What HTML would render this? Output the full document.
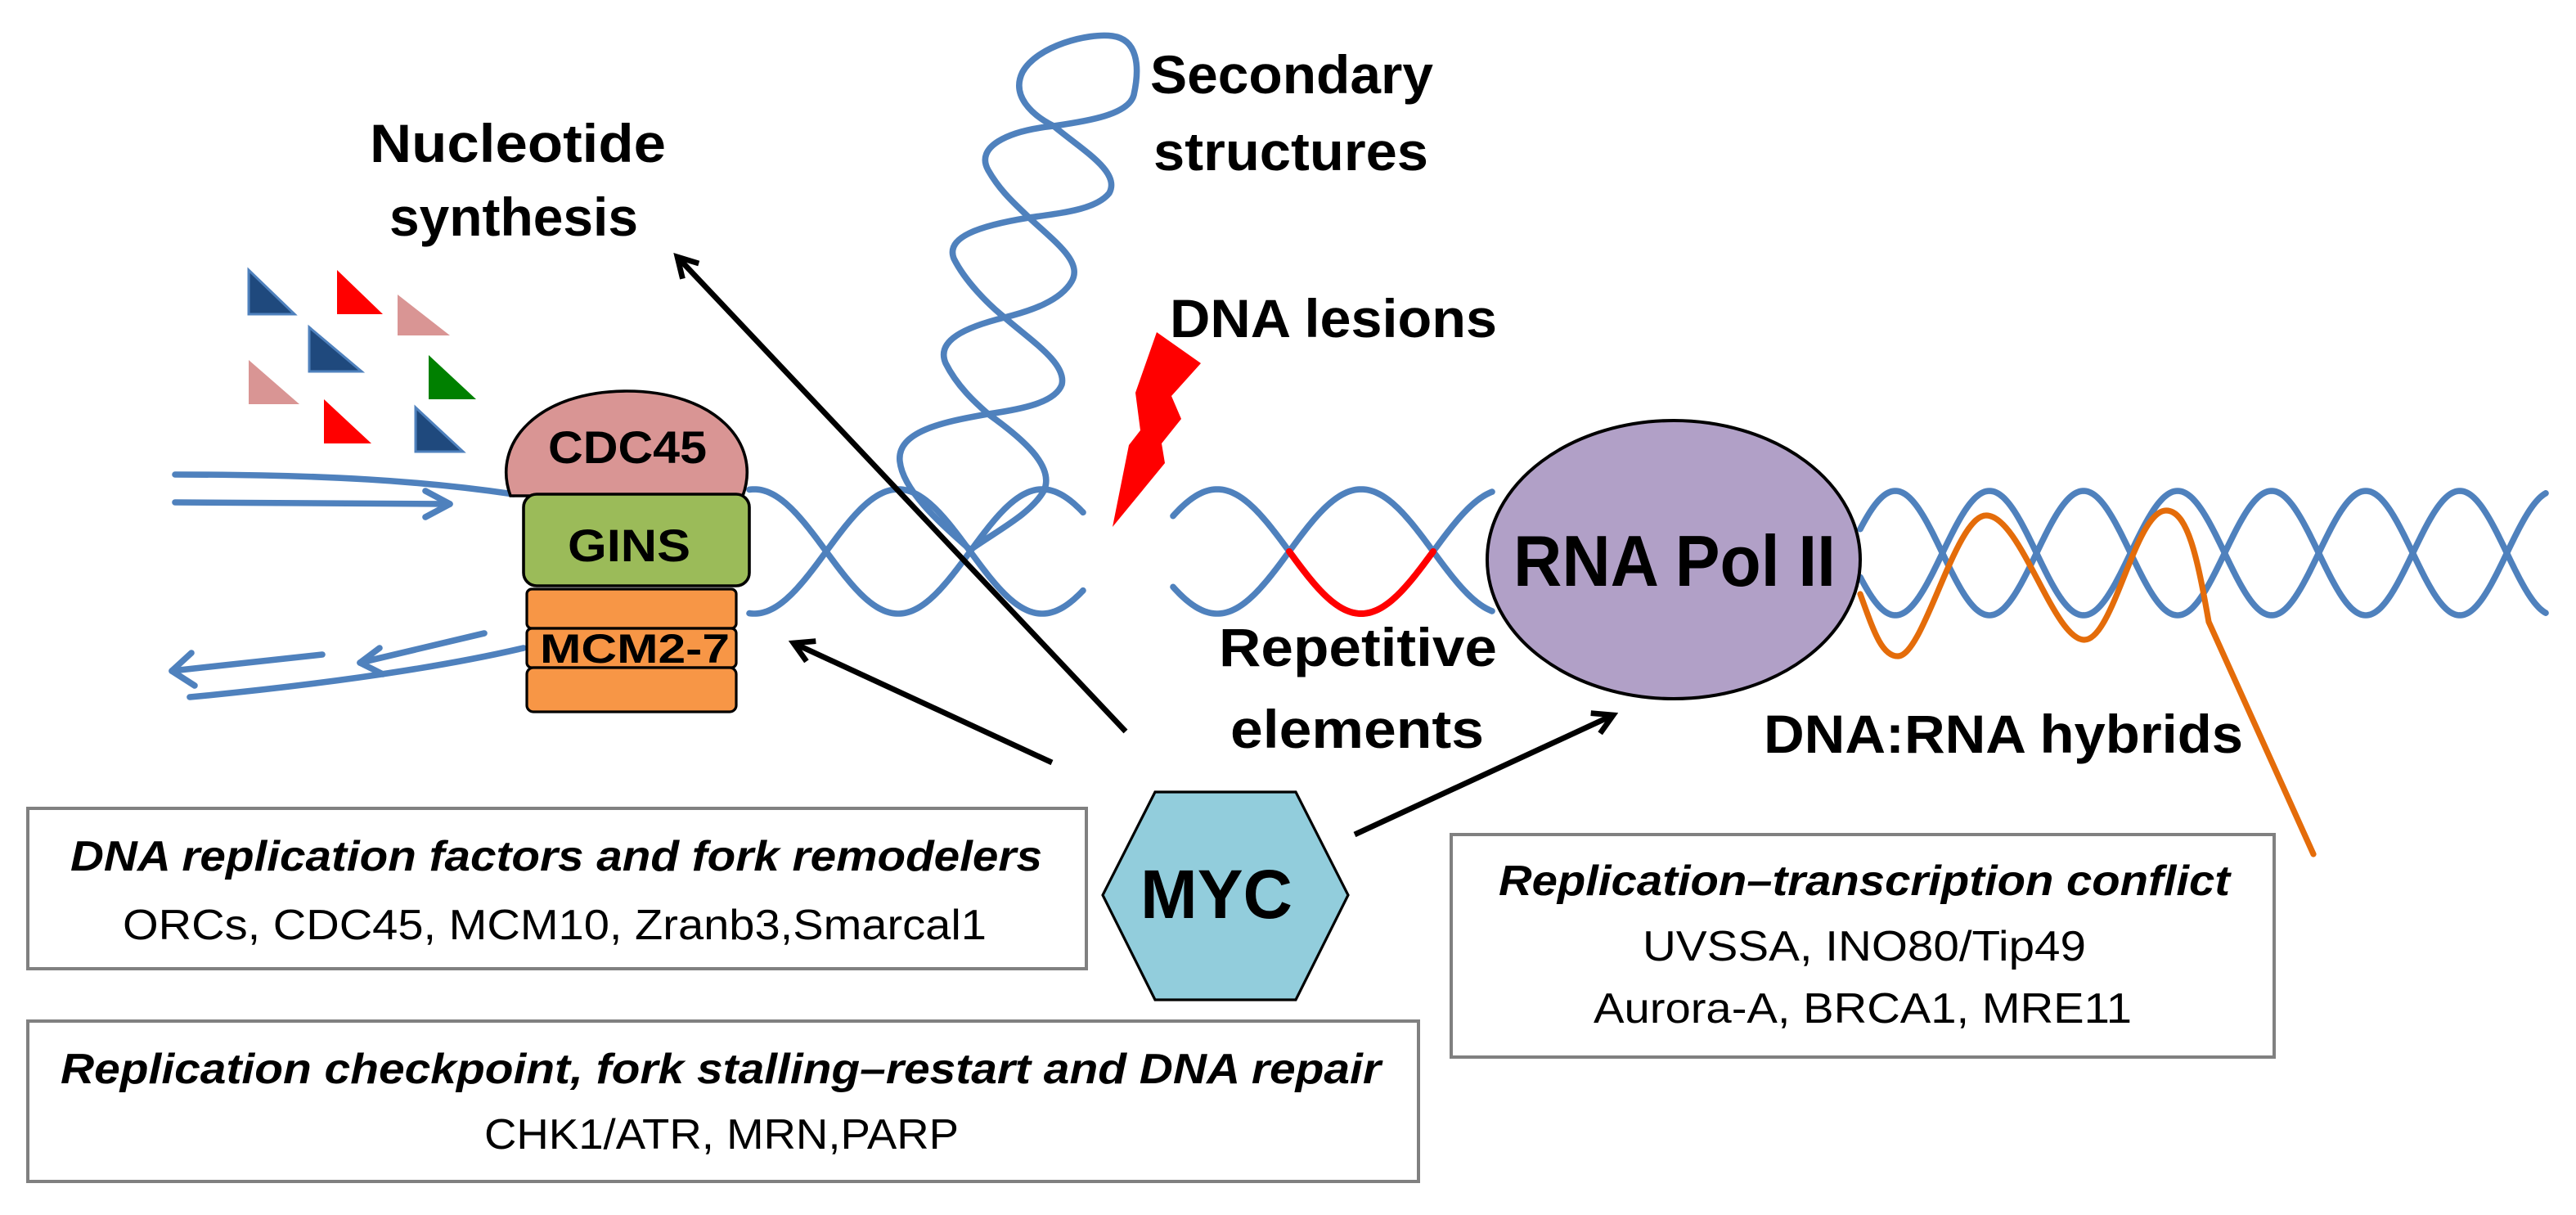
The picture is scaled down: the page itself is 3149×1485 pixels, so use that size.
<!DOCTYPE html>
<html><head><meta charset="utf-8">
<style>
html,body{margin:0;padding:0;background:#fff;}
svg{display:block;}
text{font-family:"Liberation Sans Narrow","Liberation Sans",sans-serif;fill:#000;}
.b{font-weight:bold;}
.bi{font-weight:bold;font-style:italic;}
</style></head>
<body>
<svg id="s" width="3149" height="1485" viewBox="0 0 1574.5 742.5" xmlns="http://www.w3.org/2000/svg">
<defs>
<marker id="ah" viewBox="0 0 10 10" refX="8" refY="5" markerWidth="5" markerHeight="5" orient="auto" markerUnits="strokeWidth">
<path d="M1,1 L8,5 L1,9" fill="none" stroke="#000" stroke-width="2"/>
</marker>
</defs>

<g stroke-width="1.5" stroke-linejoin="miter">
<polygon points="152,165 152,192 180,192" fill="#1F497D" stroke="#4F81BD"/>
<polygon points="206,165 206,192 234,192" fill="#FF0000"/>
<polygon points="243,180 243,205 275,205" fill="#D99594"/>
<polygon points="189,200 189,227 221,227" fill="#1F497D" stroke="#4F81BD"/>
<polygon points="152,220 152,247 183,247" fill="#D99594"/>
<polygon points="262,217 262,244 291,244" fill="#008000"/>
<polygon points="198,244 198,271 227,271" fill="#FF0000"/>
<polygon points="254,249 254,276 283,276" fill="#1F497D" stroke="#4F81BD"/>
</g>

<g id="helix" fill="none" stroke="#4F81BD" stroke-width="3.8" stroke-linecap="round"></g>

<g fill="none" stroke="#4F81BD" stroke-width="3.8" stroke-linecap="round" stroke-linejoin="round">
<path d="M107,290 C200,290 260,294 314,302"/>
<path d="M107,307 L275,308"/>
<path d="M260,300 L275,308 L260,316"/>
<path d="M320,396 C260,410 180,420 116,426"/>
<path d="M296,387 L220,405"/>
<path d="M232,396 L220,405 L234,412"/>
<path d="M197,400 L105,410"/>
<path d="M117,399 L105,410 L119,419"/>
</g>

<path d="M312,303 C300,270 330,239 383,239 C436,239 466,270 454,303 Z" fill="#D99594" stroke="#000" stroke-width="1.8"/>
<rect x="320" y="302" width="138" height="56" rx="8" fill="#9BBB59" stroke="#000" stroke-width="1.8"/>
<rect x="322" y="360" width="128" height="24" rx="3" fill="#F79646" stroke="#000" stroke-width="1.6"/>
<rect x="322" y="384" width="128" height="24" rx="3" fill="#F79646" stroke="#000" stroke-width="1.6"/>
<rect x="322" y="408" width="128" height="27" rx="4" fill="#F79646" stroke="#000" stroke-width="1.6"/>
<text class="b" x="335" y="283" font-size="28" textLength="97" lengthAdjust="spacingAndGlyphs">CDC45</text>
<text class="b" x="347" y="343" font-size="28" textLength="75" lengthAdjust="spacingAndGlyphs">GINS</text>
<text class="b" x="330" y="405" font-size="25" textLength="116" lengthAdjust="spacingAndGlyphs">MCM2-7</text>

<polygon points="707,203 734,222 716,242 722,256 710,271 712,283 680,322 690,272 697,263 694,240" fill="#FF0000"/>

<path id="redp" fill="none" stroke="#FF0000" stroke-width="4" stroke-linecap="round"/>

<path d="M1137,363 C1145,385 1150,401 1160,401 C1176,401 1195,315 1214,315 C1235,315 1255,391 1274,391 C1292,391 1305,312 1324,312 C1337,312 1343,340 1350,380 L1414,522" fill="none" stroke="#E46C0A" stroke-width="3.6" stroke-linecap="round"/>

<ellipse cx="1023" cy="342" rx="114" ry="85" fill="#B1A0C7" stroke="#000" stroke-width="2"/>
<text class="b" x="925" y="358" font-size="44" textLength="197" lengthAdjust="spacingAndGlyphs">RNA Pol II</text>

<g stroke="#000" stroke-width="3.4" fill="none" marker-end="url(#ah)">
<line x1="688" y1="447" x2="414" y2="157"/>
<line x1="643" y1="466" x2="485" y2="393"/>
<line x1="828" y1="510" x2="986" y2="437"/>
</g>

<text class="b" x="226" y="99" font-size="33" textLength="181" lengthAdjust="spacingAndGlyphs">Nucleotide</text>
<text class="b" x="238" y="144" font-size="33" textLength="152" lengthAdjust="spacingAndGlyphs">synthesis</text>
<text class="b" x="703" y="57" font-size="33" textLength="173" lengthAdjust="spacingAndGlyphs">Secondary</text>
<text class="b" x="705" y="104" font-size="33" textLength="168" lengthAdjust="spacingAndGlyphs">structures</text>
<text class="b" x="715" y="206" font-size="33" textLength="200" lengthAdjust="spacingAndGlyphs">DNA lesions</text>
<text class="b" x="745" y="407" font-size="33" textLength="170" lengthAdjust="spacingAndGlyphs">Repetitive</text>
<text class="b" x="752" y="457" font-size="33" textLength="155" lengthAdjust="spacingAndGlyphs">elements</text>
<text class="b" x="1078" y="460" font-size="33" textLength="293" lengthAdjust="spacingAndGlyphs">DNA:RNA hybrids</text>

<g fill="#fff" stroke="#808080" stroke-width="2">
<rect x="17" y="494" width="647" height="98"/>
<rect x="17" y="624" width="850" height="98"/>
<rect x="887" y="510" width="503" height="136"/>
</g>
<text class="bi" x="43" y="532" font-size="26" textLength="594" lengthAdjust="spacingAndGlyphs">DNA replication factors and fork remodelers</text>
<text x="75" y="574" font-size="26" textLength="528" lengthAdjust="spacingAndGlyphs">ORCs, CDC45, MCM10, Zranb3,Smarcal1</text>
<text class="bi" x="37" y="662" font-size="26" textLength="807" lengthAdjust="spacingAndGlyphs">Replication checkpoint, fork stalling–restart and DNA repair</text>
<text x="296" y="702" font-size="26" textLength="290" lengthAdjust="spacingAndGlyphs">CHK1/ATR, MRN,PARP</text>
<text class="bi" x="916" y="547" font-size="26" textLength="447" lengthAdjust="spacingAndGlyphs">Replication–transcription conflict</text>
<text x="1004" y="587" font-size="26" textLength="271" lengthAdjust="spacingAndGlyphs">UVSSA, INO80/Tip49</text>
<text x="974" y="625" font-size="26" textLength="329" lengthAdjust="spacingAndGlyphs">Aurora-A, BRCA1, MRE11</text>

<polygon points="706,484 792,484 824,547 792,611 706,611 674,547" fill="#92CDDC" stroke="#000" stroke-width="1.6"/>
<text class="b" x="697" y="561" font-size="42" textLength="93" lengthAdjust="spacingAndGlyphs">MYC</text>

<script>
(function(){
var g=document.getElementById('helix');
function sine(x0,x1,f){var d='';for(var x=x0;x<=x1+0.01;x+=1){var y=f(x);d+=(d?'L':'M')+x.toFixed(1)+','+y.toFixed(2);}return d;}
function add(d){var p=document.createElementNS('http://www.w3.org/2000/svg','path');p.setAttribute('d',d);g.appendChild(p);}
add(sine(458,662,function(x){return 337-38*Math.sin(Math.PI*(x-505)/88);}));
add(sine(458,662,function(x){return 337+38*Math.sin(Math.PI*(x-505)/88);}));
add(sine(717,912,function(x){return 337-38*Math.sin(Math.PI*(x-788)/88);}));
add(sine(717,912,function(x){return 337+38*Math.sin(Math.PI*(x-788)/88);}));
document.getElementById('redp').setAttribute('d',sine(788,876,function(x){return 337+38*Math.sin(Math.PI*(x-788)/88);}));
add(sine(1137,1556,function(x){return 338-38*Math.cos(2*Math.PI*(x-1216)/115);}));
add(sine(1137,1556,function(x){return 338+38*Math.cos(2*Math.PI*(x-1216)/115);}));
add('M644,77 C630,70 618,58 625,44 C634,28 665,20 680,22 C695,24 697,40 693,58 C690,70 665,74 644,77');
add('M644,77 C615,80 596,90 604,104 C612,118 622,126 629,133');
add('M644,77 C662,92 685,105 678,118 C670,128 650,130 629,133');
add('M629,133 C598,138 578,145 583,158 C590,172 604,186 614,194');
add('M629,133 C645,148 662,160 655,172 C648,184 630,190 614,194');
add('M614,194 C590,200 572,208 578,222 C585,236 596,246 604,253');
add('M614,194 C630,208 652,222 649,235 C645,246 625,250 604,253');
add('M604,253 C575,258 548,264 550,282 C552,300 575,320 593,336');
add('M604,253 C625,268 645,285 638,300 C630,314 610,324 593,336');
})();
</script>
</svg>
</body></html>
